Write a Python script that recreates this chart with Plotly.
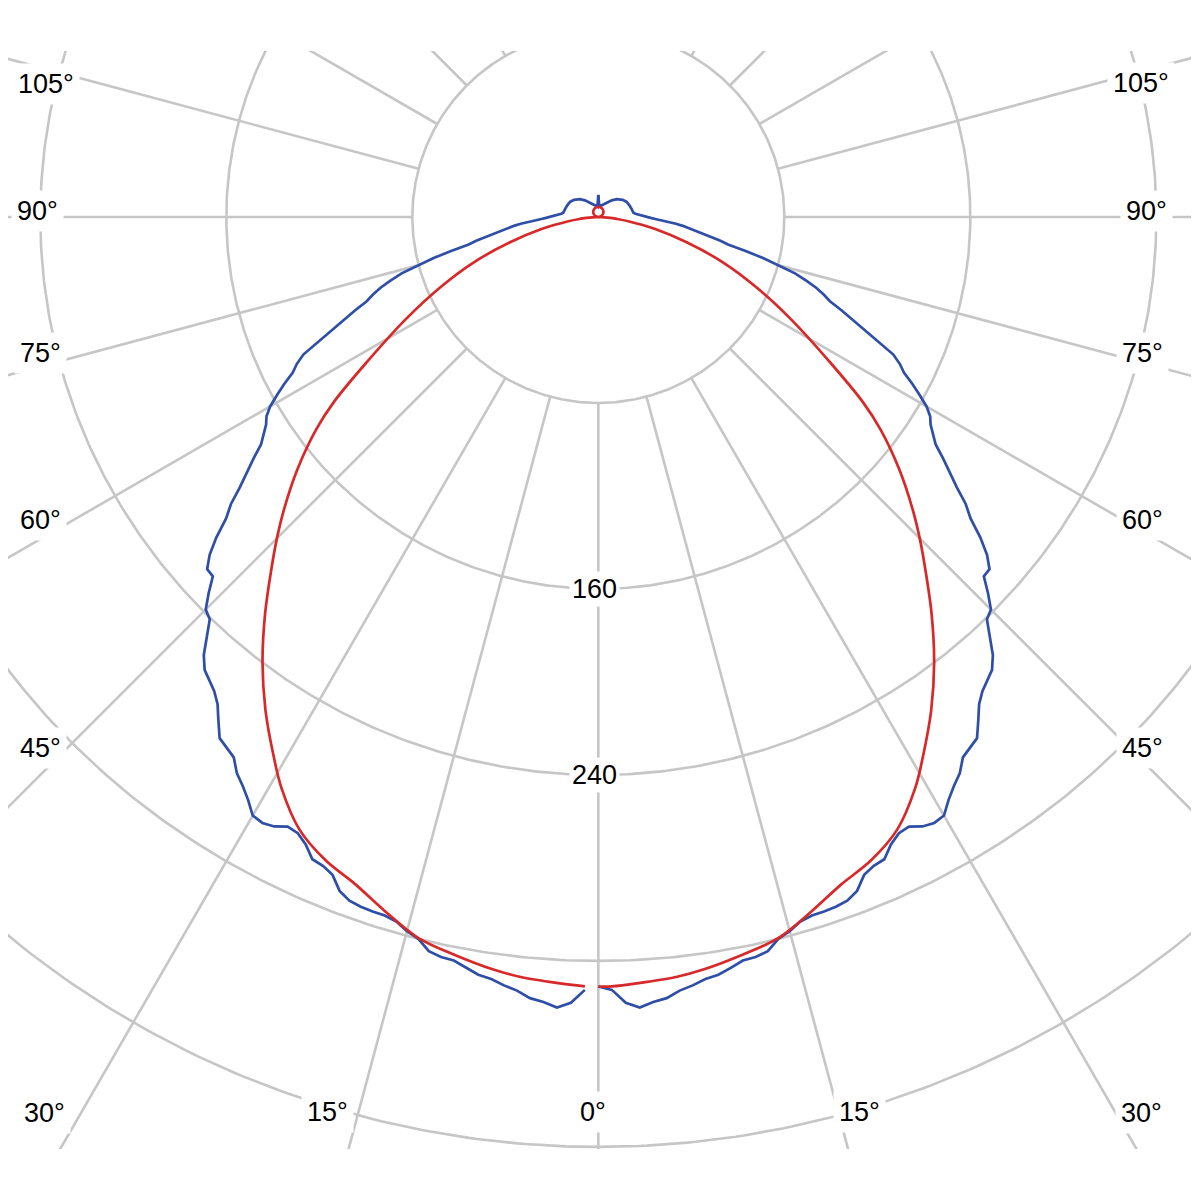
import numpy as np
import plotly.graph_objects as go

# ---------------- data (angle in degrees from nadir, intensity) ----------------
# Blue curve (C0-C180 plane, symmetric)
BLUE_ANGLES = [0, 1, 2, 3, 4, 5, 6, 7, 8, 9, 10, 11, 12, 13, 14, 15, 16, 17, 18, 19,
               20, 21, 22, 23, 24, 25, 26, 27, 28, 29, 30, 31, 32, 33, 34, 36, 37, 38,
               39, 40, 41, 42, 43, 44, 45, 46, 47, 48, 49, 50, 51, 52, 53, 54, 55, 56,
               57, 58, 59, 60, 61, 62, 63, 64, 65, 66, 67, 68, 69, 70, 71, 72, 73, 74,
               75, 76, 77, 78, 79, 80, 81, 82, 83, 84, 85, 86, 87, 88, 89, 90, 92, 95,
               97, 100, 105, 110, 118, 125, 134, 141, 150, 160, 170, 175, 180]
BLUE_VALUES = [331, 332.5, 338.2, 340.5, 338.5, 337.3, 334.6, 333, 331, 330, 328, 325.8,
               325.4, 324.1, 320, 318, 315.3, 314.2, 314.1, 313.8, 313, 310.5, 305.2,
               303.2, 302.4, 297.8, 294.9, 294.3, 296.9, 298, 297.3, 292.5, 288.6, 285.4,
               280.4, 277.1, 271.5, 266, 262.5, 260.2, 258.1, 253.6, 246.6, 240.6, 238.8,
               233, 226.7, 226.4, 221.5, 214.5, 206, 200.5, 193, 187, 181, 175, 171.5,
               168.5, 166.5, 163, 158, 153, 147.5, 144.3, 140, 132, 124.5, 118, 112, 106,
               102.5, 98.5, 93.5, 88, 79.5, 73, 65, 57, 53.5, 49, 45, 41.5, 39.5, 36.5,
               33.5, 30.5, 27, 24.5, 22.5, 21, 18, 16, 15.2, 14.8, 14.6, 14.3, 13.8, 12.8,
               11, 9.2, 7, 5.6, 4.8, 4.5, 9.5]

# Red curve (C90-C270 plane, symmetric)
RED_ANGLES = [0, 1, 3, 6, 8, 11, 14, 17, 20, 23, 26, 29, 31, 34, 37, 40, 43, 45, 47, 50,
              53, 55, 58, 62, 66, 70, 74, 78, 82, 84, 86, 88, 90, 105, 120, 135, 150,
              165, 180]
RED_VALUES = [331, 331, 330, 328.5, 326.8, 323.4, 319.7, 312.6, 305.5, 300.5, 293.2, 281,
              271, 256, 240, 223, 206, 195.5, 185, 169, 152, 139, 117, 94, 74.5, 57,
              39.5, 25, 13, 8, 4, 1.2, 0, 1.2, 2.2, 3.1, 3.8, 4.2, 4.4]

# Grid
GRID_RADII = [80, 160, 240, 320, 400]
SPOKE_ANGLES = list(range(0, 360, 15))
RADIUS_LABELS = ["160", "240"]
RADIUS_LABEL_VALUES = [160, 240]

# Angle labels: text and position (data units) on the frame
ANGLE_LABELS = ["105°", "105°", "90°", "90°", "75°", "75°", "60°", "60°", "45°", "45°",
                "30°", "30°", "15°", "15°", "0°"]
ANGLE_LABEL_X = [-237.5, 233.5, -241, 235.6, -240, 234, -240, 234, -240, 234,
                 -238, 233.5, -116.3, 112.5, -2.3]
ANGLE_LABEL_Y = [57.2, 57.6, 2.6, 2.6, -58.5, -58.5, -130.3, -130.3, -228.4, -228.4,
                 -385.4, -385.4, -385.0, -385.0, -385.0]

BLUE = "#2f4ea6"
RED = "#d7282a"
GRID = "#c6c6c6"
FONT = "Liberation Sans"


def to_xy(angles_deg, radii):
    a = np.radians(np.asarray(angles_deg, dtype=float))
    r = np.asarray(radii, dtype=float)
    return r * np.sin(a), -r * np.cos(a)


def both_halves(angles, values):
    # right half 0..180, gap, left half -1..-180
    ang = np.asarray(angles, dtype=float)
    val = np.asarray(values, dtype=float)
    xr, yr = to_xy(ang, val)
    mask = ang >= 1
    xl, yl = to_xy(-ang[mask], val[mask])
    x = list(xr) + [None] + list(xl)
    y = list(yr) + [None] + list(yl)
    return x, y


fig = go.Figure()

# grid circles
cx, cy = [], []
t = np.linspace(0, 360, 721)
for rad in GRID_RADII:
    x, y = to_xy(t, np.full_like(t, rad))
    cx += list(x) + [None]
    cy += list(y) + [None]
fig.add_trace(go.Scatter(x=cx, y=cy, mode="lines", line=dict(color=GRID, width=2.6),
                         hoverinfo="skip", showlegend=False))

# grid spokes (from the first circle outwards)
sx, sy = [], []
for a in SPOKE_ANGLES:
    x, y = to_xy([a, a], [GRID_RADII[0], 1500])
    sx += list(x) + [None]
    sy += list(y) + [None]
fig.add_trace(go.Scatter(x=sx, y=sy, mode="lines", line=dict(color=GRID, width=2.6),
                         hoverinfo="skip", showlegend=False))

# curves
bx, by = both_halves(BLUE_ANGLES, BLUE_VALUES)
fig.add_trace(go.Scatter(x=bx, y=by, mode="lines", line=dict(color=BLUE, width=2.7),
                         hoverinfo="skip", showlegend=False))
rx, ry = both_halves(RED_ANGLES, RED_VALUES)
fig.add_trace(go.Scatter(x=rx, y=ry, mode="lines",
                         line=dict(color=RED, width=2.7, shape="spline", smoothing=1.0),
                         hoverinfo="skip", showlegend=False))

annotations = []
for txt, x, y in zip(ANGLE_LABELS, ANGLE_LABEL_X, ANGLE_LABEL_Y):
    annotations.append(dict(x=x, y=y, xref="x", yref="y", text=txt, showarrow=False,
                            font=dict(family=FONT, size=27, color="black"),
                            bgcolor="white", borderpad=5, xanchor="center",
                            yanchor="middle"))
for txt, val in zip(RADIUS_LABELS, RADIUS_LABEL_VALUES):
    annotations.append(dict(x=-1.8, y=-val, xref="x", yref="y", text=txt,
                            showarrow=False,
                            font=dict(family=FONT, size=27, color="black"),
                            bgcolor="white", borderpad=2, xanchor="center",
                            yanchor="middle"))

# The page body adds an 8 px offset; size and margins compensate for it.
fig.update_layout(
    width=1192, height=1192,
    margin=dict(l=0, r=9, t=43, b=51, pad=0, autoexpand=False),
    paper_bgcolor="white", plot_bgcolor="white",
    xaxis=dict(range=[-253.9, 254.9], visible=False, showgrid=False, zeroline=False,
               fixedrange=True),
    yaxis=dict(range=[-400.9, 71.4], visible=False, showgrid=False, zeroline=False,
               fixedrange=True),
    annotations=annotations,
    showlegend=False,
)

fig.write_html("out.html")
